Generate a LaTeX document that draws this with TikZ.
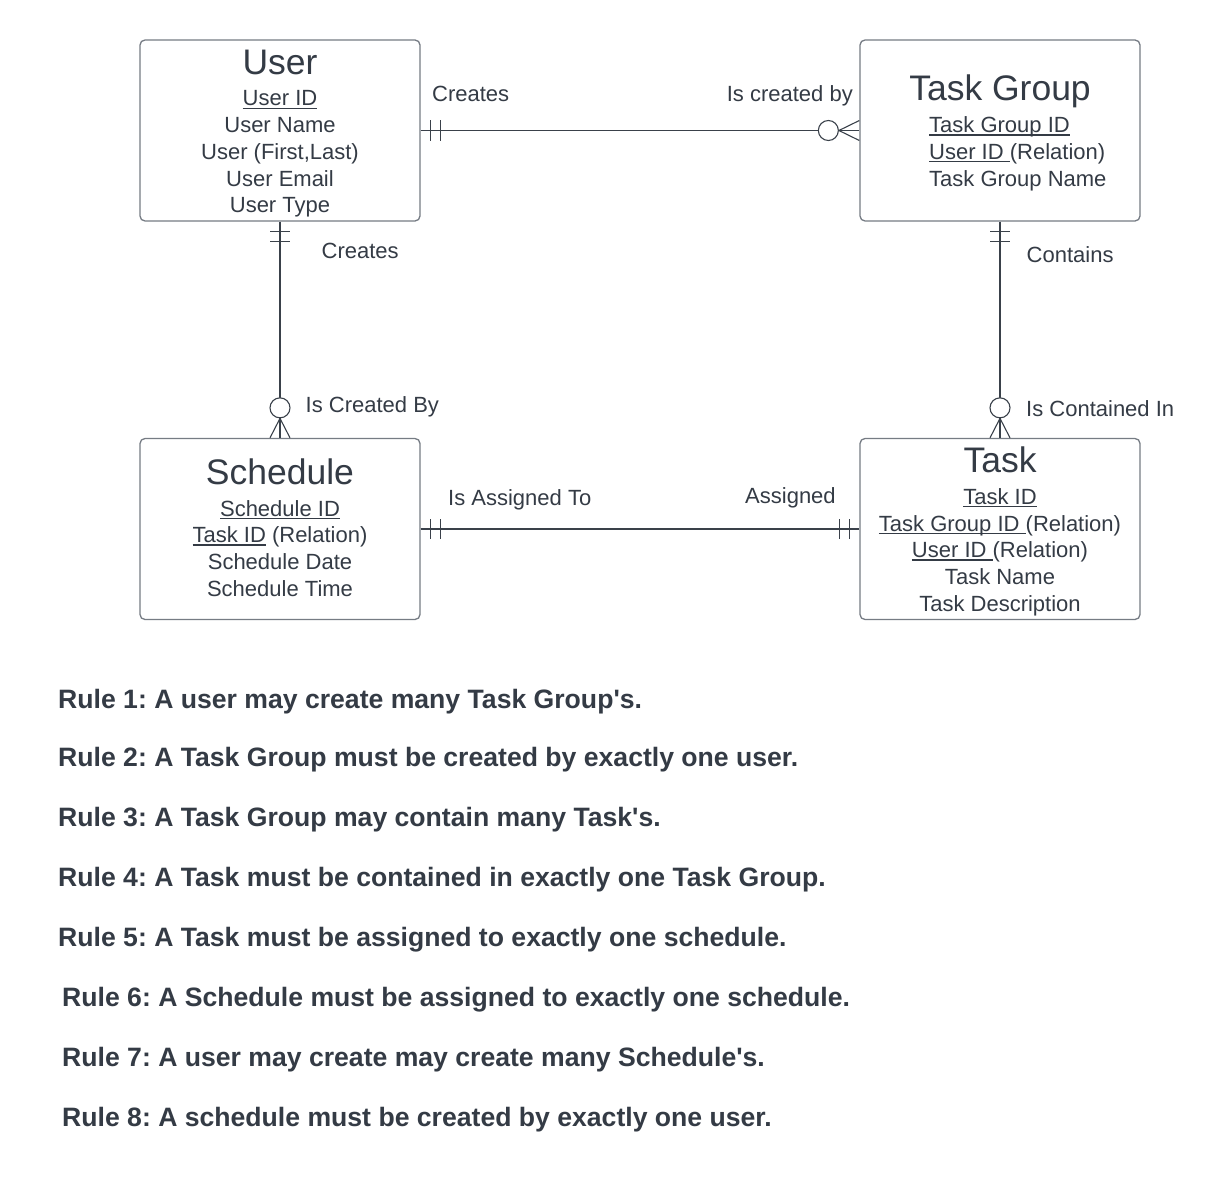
\documentclass[tikz,border=0pt]{standalone}
\usepackage{fontspec}
\setmainfont{Liberation Sans}
\usetikzlibrary{calc}
\definecolor{txtc}{RGB}{52,59,69}
\definecolor{linec}{RGB}{58,65,74}
\definecolor{boxc}{RGB}{118,124,132}
\newcommand\attrfont{\fontsize{22}{26.67}\selectfont}
\newcommand\ttlfont{\fontsize{35.5}{40}\selectfont}
\newcommand\rulefont{\fontsize{26.6}{30}\selectfont\bfseries}
\newsavebox\ulbox
\newcommand\ulx[1]{\sbox\ulbox{#1}\rlap{\rule[-3pt]{\wd\ulbox}{1.3pt}}\usebox\ulbox}
\frenchspacing
\tikzset{
  entity/.style={draw=boxc, line width=1.3pt, rounded corners=5pt, minimum width=280pt, minimum height=181pt, inner sep=0pt, fill=white},
  ttl/.style={font=\ttlfont, text=txtc, inner sep=0pt, anchor=base},
  attr/.style={font=\attrfont, text=txtc, inner sep=0pt, anchor=base},
  attrl/.style={font=\attrfont, text=txtc, inner sep=0pt, anchor=base west},
  lbl/.style={font=\attrfont, text=txtc, inner sep=0pt, anchor=base west},
  lblr/.style={font=\attrfont, text=txtc, inner sep=0pt, anchor=base east},
  rulet/.style={font=\rulefont, text=txtc, inner sep=0pt, anchor=base west},
  conn/.style={draw=linec, line width=1.4pt},
  tick/.style={draw=linec, line width=1.1pt},
  circ/.style={draw=linec, line width=1.1pt, fill=white, circle, minimum size=20pt, inner sep=0pt}
}
\begin{document}
\begin{tikzpicture}[x=1pt,y=-1pt]
\useasboundingbox[fill=white] (0,0) rectangle (1220,1180);

% entities
\node[entity] (user) at (280,130.5) {};
\node[entity] (tg) at (1000,130.5) {};
\node[entity] (sch) at (280,529) {};
\node[entity] (task) at (1000,529) {};

\begin{scope}[shift={(0,1)}]
% User
\node[ttl] (u0) at (280,73.3) {User};
\node[attr] (u1) at (280,105) {\ulx{User ID}};
\node[attr] (u2) at (280,131.7) {User Name};
\node[attr] (u3) at (280,158.3) {User (First,Last)};
\node[attr] (u4) at (280,185) {User Email};
\node[attr] (u5) at (280,211.7) {User Type};

% Task Group
\node[ttl] (g0) at (1000,100) {Task Group};
\node[attrl] (g1) at (929,131.7) {\ulx{Task Group ID}};
\node[attrl] (g2) at (929,158.3) {\ulx{User ID\ }(Relation)};
\node[attrl] (g3) at (929,185) {Task Group Name};

% Schedule
\node[ttl] (s0) at (280,483.3) {Schedule};
\node[attr] (s1) at (280,515) {\ulx{Schedule ID}};
\node[attr] (s2) at (280,541.7) {\ulx{Task ID} (Relation)};
\node[attr] (s3) at (280,568.3) {Schedule Date};
\node[attr] (s4) at (280,595) {Schedule Time};

% Task
\node[ttl] (t0) at (1000,471.7) {Task};
\node[attr] (t1) at (1000,503.3) {\ulx{Task ID}};
\node[attr] (t2) at (1000,530) {\ulx{Task Group ID\ }(Relation)};
\node[attr] (t3) at (1000,556.7) {\ulx{User ID\ }(Relation)};
\node[attr] (t4) at (1000,583.3) {Task Name};
\node[attr] (t5) at (1000,610) {Task Description};

% connector labels
\node[lbl] (l1) at (432,101) {Creates};
\node[lblr] (l2) at (853,101) {Is created by};
\node[lbl] (l3) at (321.5,257.3) {Creates};
\node[lbl] (l4) at (305.5,411.7) {Is Created By};
\node[lbl] (l5) at (1026.5,261.7) {Contains};
\node[lbl] (l6) at (1026,415) {Is Contained In};
\node[lbl] (l7) at (448,504) {Is Assigned To};
\node[lbl] (l8) at (745,502.7) {Assigned};
\end{scope}

% User -- Task Group
\draw[conn] (user.east) -- (tg.west);
\draw[tick] ($(user.east)+(10,-10)$) -- ($(user.east)+(10,10)$);
\draw[tick] ($(user.east)+(20,-10)$) -- ($(user.east)+(20,10)$);
\node[circ] (c1) at ($(tg.west)+(-31,0)$) {};
\draw[tick] (c1.east) -- ($(tg.west)+(0,-10)$);
\draw[tick] (c1.east) -- ($(tg.west)+(0,10)$);

% User -- Schedule
\draw[conn] (user.south) -- (sch.north);
\draw[tick] ($(user.south)+(-10,10)$) -- ($(user.south)+(10,10)$);
\draw[tick] ($(user.south)+(-10,20)$) -- ($(user.south)+(10,20)$);
\node[circ] (c2) at ($(sch.north)+(0,-30)$) {};
\draw[tick] (c2.south) -- ($(sch.north)+(-10,0)$);
\draw[tick] (c2.south) -- ($(sch.north)+(10,0)$);

% Task Group -- Task
\draw[conn] (tg.south) -- (task.north);
\draw[tick] ($(tg.south)+(-10,10)$) -- ($(tg.south)+(10,10)$);
\draw[tick] ($(tg.south)+(-10,20)$) -- ($(tg.south)+(10,20)$);
\node[circ] (c3) at ($(task.north)+(0,-30)$) {};
\draw[tick] (c3.south) -- ($(task.north)+(-10,0)$);
\draw[tick] (c3.south) -- ($(task.north)+(10,0)$);

% Schedule -- Task
\draw[conn] (sch.east) -- (task.west);
\draw[tick] ($(sch.east)+(10,-10)$) -- ($(sch.east)+(10,10)$);
\draw[tick] ($(sch.east)+(20,-10)$) -- ($(sch.east)+(20,10)$);
\draw[tick] ($(task.west)+(-10,-10)$) -- ($(task.west)+(-10,10)$);
\draw[tick] ($(task.west)+(-20,-10)$) -- ($(task.west)+(-20,10)$);

% Rules
\node[rulet] (r1) at (58,708) {Rule 1: A user may create many Task Group\textquotesingle s.};
\node[rulet] (r2) at (58,766) {Rule 2: A Task Group must be created by exactly one user.};
\node[rulet] (r3) at (58,826) {Rule 3: A Task Group may contain many Task\textquotesingle s.};
\node[rulet] (r4) at (58,886) {Rule 4: A Task must be contained in exactly one Task Group.};
\node[rulet] (r5) at (58,946) {Rule 5: A Task must be assigned to exactly one schedule.};
\node[rulet] (r6) at (62,1006) {Rule 6: A Schedule must be assigned to exactly one schedule.};
\node[rulet] (r7) at (62,1066) {Rule 7: A user may create may create many Schedule\textquotesingle s.};
\node[rulet] (r8) at (62,1126) {Rule 8: A schedule must be created by exactly one user.};
\end{tikzpicture}
\end{document}
